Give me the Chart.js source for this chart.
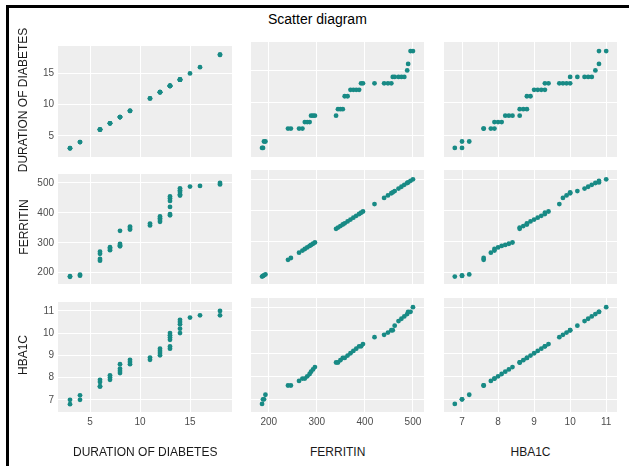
<!DOCTYPE html>
<html>
<head>
<meta charset="utf-8">
<script src="https://cdn.jsdelivr.net/npm/chart.js@4.4.1/dist/chart.umd.min.js"></script>
<style>
  body { margin: 0; background: #fff; width: 629px; height: 466px; overflow: hidden; position: relative; font-family: "Liberation Sans", Arial, Helvetica, sans-serif; }
  #frame { position: absolute; left: 6px; top: 5px; right: -10px; bottom: -10px; border-left: 3px solid #000; border-top: 3px solid #000; }
  canvas { position: absolute; }
  .lbl { position: absolute; font-size: 12px; color: #1a1a1a; white-space: nowrap; }
</style>
</head>
<body>
<div id="frame"></div>
<div class="lbl" style="left:268px; top:11px; font-size:14px; color:#000">Scatter diagram</div>

<script>
// one record per patient
const duration = [3, 3, 4, 4, 6, 6, 6, 6, 7, 7, 7, 8, 8, 8, 8, 9, 9, 9, 11, 11,
  12, 12, 12, 12, 13, 13, 13, 13, 13, 13, 14, 14, 14, 14, 14, 15, 16, 18, 18]
const ferritin = [186, 188, 190, 193, 240, 246, 263, 270, 275, 280, 285, 288, 292, 296, 340, 344, 349, 354, 358, 364,
  370, 376, 382, 388, 392, 396, 420, 440, 448, 455, 458, 462, 470, 476, 482, 488, 490, 495, 500]
const hba1c = [6.8, 7.0, 7.0, 7.2, 7.6, 7.6, 7.8, 7.9, 7.9, 8.0, 8.1, 8.2, 8.3, 8.4, 8.6, 8.6, 8.7, 8.8, 8.8, 8.9,
  9.0, 9.1, 9.2, 9.3, 9.3, 9.4, 9.7, 9.8, 9.9, 10.0, 10.0, 10.2, 10.4, 10.5, 10.6, 10.7, 10.8, 10.8, 11.0]

const varNames = ['DURATION OF DIABETES', 'FERRITIN', 'HBA1C']
const durationTicks = [5, 10, 15]
const ferritinTicks = [200, 300, 400, 500]
const hba1cTicks = [7, 8, 9, 10, 11]

const vars = [duration, ferritin, hba1c]
const ticksFor = [durationTicks, ferritinTicks, hba1cTicks]
const xRange = [[1.8, 19.2], [163, 523], [6.5, 11.3]]
const yRange = [[1.6, 19.4], [162, 530], [6.45, 11.4]]

// plot boxes in page pixels
const cols = [[58, 232], [251, 424], [444, 617]]
const rows = [[42, 157], [170, 284], [298, 412]]

const AXW = 40, AXH = 24, PAD = 6
const font = "'Liberation Sans', Arial, Helvetica, sans-serif"

const panelBg = {
  id: 'panelBg',
  beforeDraw(chart) {
    const a = chart.chartArea, ctx = chart.ctx
    ctx.save()
    ctx.fillStyle = '#eeeeee'
    ctx.fillRect(a.left, a.top, a.right - a.left, a.bottom - a.top)
    ctx.restore()
  }
}

function makePanel(r, c) {
  const [x0, x1] = cols[c], [y0, y1] = rows[r]
  const cv = document.createElement('canvas')
  const w = AXW + (x1 - x0) + PAD, h = PAD + (y1 - y0) + AXH
  cv.style.left = (x0 - AXW) + 'px'
  cv.style.top = (y0 - PAD) + 'px'
  cv.style.width = w + 'px'
  cv.style.height = h + 'px'
  cv.width = w; cv.height = h
  document.body.appendChild(cv)

  const pts = vars[c].map((v, i) => ({ x: v, y: vars[r][i] }))
  const xt = ticksFor[c], yt = ticksFor[r]

  new Chart(cv, {
    type: 'scatter',
    data: { datasets: [{ data: pts, backgroundColor: '#188a85', borderWidth: 0, pointRadius: 2.4, pointHoverRadius: 2.4 }] },
    options: {
      responsive: false, animation: false, devicePixelRatio: 1,
      layout: { padding: { top: PAD, right: PAD, left: 0, bottom: 0 } },
      plugins: { legend: { display: false }, tooltip: { enabled: false } },
      scales: {
        x: {
          type: 'linear', min: xRange[c][0], max: xRange[c][1],
          afterBuildTicks: s => { s.ticks = xt.map(v => ({ value: v })) },
          afterFit: s => { s.height = AXH },
          grid: { color: '#ffffff', lineWidth: 1, drawTicks: false },
          border: { display: false },
          ticks: { display: r === 2, padding: 4, color: '#4d4d4d', font: { size: 10, family: font }, maxRotation: 0 }
        },
        y: {
          type: 'linear', min: yRange[r][0], max: yRange[r][1],
          afterBuildTicks: s => { s.ticks = yt.map(v => ({ value: v })) },
          afterFit: s => { s.width = AXW },
          grid: { color: '#ffffff', lineWidth: 1, drawTicks: false },
          border: { display: false },
          ticks: { display: c === 0, padding: 4, color: '#4d4d4d', font: { size: 10, family: font } }
        }
      }
    },
    plugins: [panelBg]
  })
}

for (let r = 0; r < 3; r++) {
  for (let c = 0; c < 3; c++) makePanel(r, c)
}

// axis titles
for (let c = 0; c < 3; c++) {
  const d = document.createElement('div')
  d.className = 'lbl'
  d.textContent = varNames[c]
  document.body.appendChild(d)
  const cx = (cols[c][0] + cols[c][1]) / 2
  d.style.left = (cx - d.offsetWidth / 2) + 'px'
  d.style.top = (452 - d.offsetHeight / 2) + 'px'
}
for (let r = 0; r < 3; r++) {
  const d = document.createElement('div')
  d.className = 'lbl'
  d.textContent = varNames[r]
  document.body.appendChild(d)
  const cy = (rows[r][0] + rows[r][1]) / 2
  d.style.left = (23 - d.offsetWidth / 2) + 'px'
  d.style.top = (cy - d.offsetHeight / 2) + 'px'
  d.style.transform = 'rotate(-90deg)'
}
</script>
</body>
</html>
